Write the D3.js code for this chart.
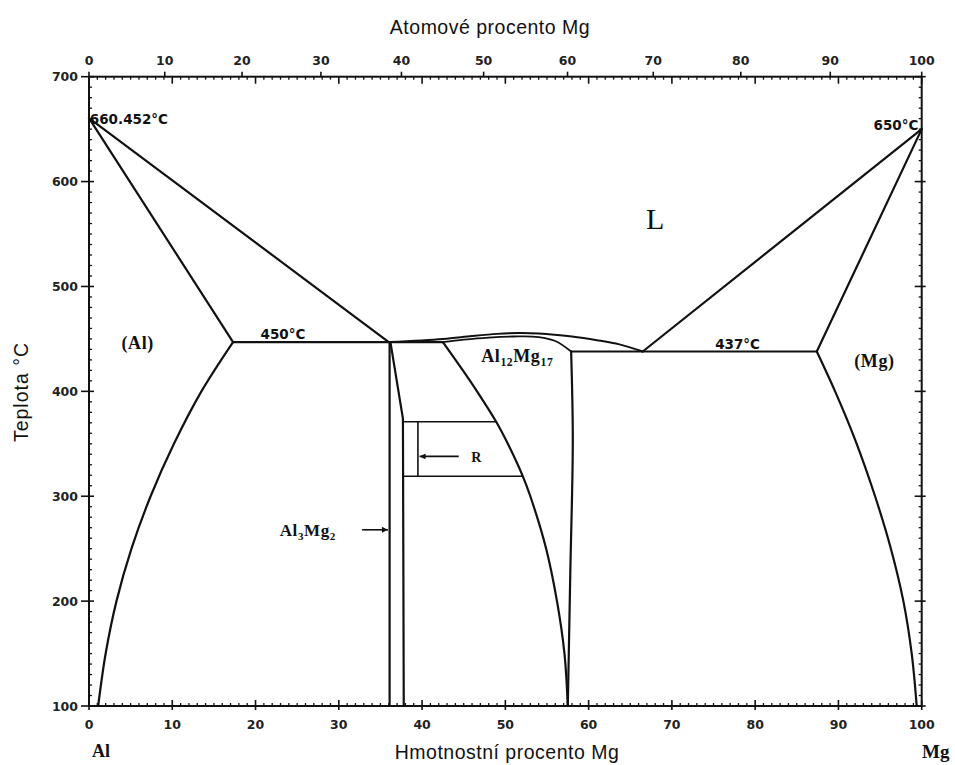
<!DOCTYPE html>
<html>
<head>
<meta charset="utf-8">
<script src="https://cdn.jsdelivr.net/npm/d3@7"></script>
<style>
  body { margin: 0; background: #fff; }
  svg { display: block; }
  .sans { font-family: "Liberation Sans", Arial, sans-serif; }
  .num { font-family: "DejaVu Sans", sans-serif; }
  .serif { font-family: "Liberation Serif", "DejaVu Serif", serif; }
</style>
</head>
<body>
<svg id="chart" width="955" height="765"></svg>
<script>
// axis ticks
const wtTicks = [0, 10, 20, 30, 40, 50, 60, 70, 80, 90, 100];
const atTicks = [0, 10, 20, 30, 40, 50, 60, 70, 80, 90, 100];
const tempTicks = [100, 200, 300, 400, 500, 600, 700];

// phase boundaries, [wt% Mg, temperature °C]
const alLiquidus = [[0, 660.452], [36.0, 447]];
const alSolidus = [[0, 660.452], [17.3, 447]];
const alSolvus = [[17.3, 447], [13.5, 400], [10.2, 350], [7.4, 300], [5.1, 250], [3.3, 200], [2.0, 150], [1.1, 100]];
const eutectic450 = [[17.3, 447], [42.5, 447]];
const betaLeft = [[36.1, 447], [36.1, 100]];
const betaRight = [[36.2, 447], [37.7, 374], [37.8, 100]];
const rTop = [[37.7, 371], [48.9, 371]];
const rBottom = [[37.8, 319], [52.1, 319]];
const rSide = [[39.5, 371], [39.5, 319]];
const gammaLeft = [[42.5, 447], [44.9, 420], [46.6, 400], [48.9, 371], [50.3, 350], [52.1, 319], [53.0, 300],
                   [54.9, 250], [56.2, 200], [57.1, 150], [57.5, 100]];
const gammaRight = [[57.9, 438], [58.1, 354], [57.8, 227], [57.5, 100]];
const midLiquidus = [[36.0, 447], [42.5, 450], [46, 452.8], [49, 454.8], [51.5, 455.6], [54, 455.2],
                     [58, 452.3], [61, 448.8], [63.7, 444.8], [66.5, 438]];
const gammaSolidus = [[42.5, 447], [45, 449.3], [48, 451.3], [51, 452.3], [54, 451.8], [56, 448], [57.9, 438]];
const eutectic437 = [[57.9, 438], [87.4, 438]];
const mgLiquidus = [[66.5, 438], [100, 650]];
const mgSolidus = [[87.4, 438], [100, 650]];
const mgSolvus = [[87.4, 438], [89.6, 400], [92.0, 354], [94.4, 300], [96.3, 250], [97.8, 200], [98.8, 150], [99.4, 100]];

const MG = 24.305, AL = 26.9815;
const atToWt = a => 100 * a * MG / (a * MG + (100 - a) * AL);

const svg = d3.select("#chart");

const x = d3.scaleLinear().domain([0, 100]).range([89, 921.7]);
const y = d3.scaleLinear().domain([100, 700]).range([706, 76.7]);

const [x0, x1] = x.range();
const [y0, y1] = y.range();

// frame
svg.append("rect")
    .attr("x", x0).attr("y", y1)
    .attr("width", x1 - x0).attr("height", y0 - y1)
    .attr("fill", "none").attr("stroke", "#111").attr("stroke-width", 2);

const tickG = svg.append("g").attr("stroke", "#111");

// wt% ticks top and bottom (inward, majors crossing)
d3.range(0, 101, 1).forEach(w => {
    const major = w % 10 === 0;
    tickG.append("line").attr("x1", x(w)).attr("x2", x(w))
        .attr("y1", y0 + (major ? 4 : 0)).attr("y2", y0 - (major ? 6 : 3))
        .attr("stroke-width", major ? 1.6 : 1.3);
    tickG.append("line").attr("x1", x(w)).attr("x2", x(w))
        .attr("y1", y1).attr("y2", y1 + (major ? 7 : 3))
        .attr("stroke-width", major ? 1.6 : 1.3);
});

// temperature ticks left and right
d3.range(100, 701, 10).forEach(t => {
    const major = t % 100 === 0;
    tickG.append("line").attr("y1", y(t)).attr("y2", y(t))
        .attr("x1", x0 - (major ? 8 : 0)).attr("x2", x0 + (major ? 5 : 3))
        .attr("stroke-width", major ? 1.6 : 1.3);
    tickG.append("line").attr("y1", y(t)).attr("y2", y(t))
        .attr("x1", x1 + (major ? 4 : 0)).attr("x2", x1 - (major ? 7 : 3))
        .attr("stroke-width", major ? 1.6 : 1.3);
});

// atomic % ticks on top (outward)
atTicks.forEach(a => {
    tickG.append("line").attr("x1", x(atToWt(a))).attr("x2", x(atToWt(a)))
        .attr("y1", y1).attr("y2", y1 - 5).attr("stroke-width", 1.6);
});

const tickText = svg.append("g")
    .attr("class", "num")
    .attr("font-size", 12.5)
    .attr("font-weight", "bold")
    .attr("fill", "#222");

tickText.selectAll(".wt").data(wtTicks).join("text")
    .attr("x", d => x(d)).attr("y", y0 + 23)
    .attr("text-anchor", "middle").text(d => d);

tickText.selectAll(".at").data(atTicks).join("text")
    .attr("x", d => x(atToWt(d))).attr("y", y1 - 12)
    .attr("text-anchor", "middle").text(d => d);

tickText.selectAll(".temp").data(tempTicks).join("text")
    .attr("x", x0 - 11).attr("y", d => y(d) + 4.5)
    .attr("text-anchor", "end").text(d => d);

// phase boundaries
const straight = d3.line().x(d => x(d[0])).y(d => y(d[1]));
const smooth = d3.line().x(d => x(d[0])).y(d => y(d[1])).curve(d3.curveCatmullRom.alpha(0.5));

const lines = svg.append("g")
    .attr("fill", "none")
    .attr("stroke", "#111")
    .attr("stroke-linejoin", "round")
    .attr("stroke-linecap", "round");

[
    [alLiquidus, straight, 2.2],
    [alSolidus, straight, 2.2],
    [alSolvus, smooth, 2.2],
    [eutectic450, straight, 2.2],
    [betaLeft, straight, 2.2],
    [betaRight, straight, 2.2],
    [rTop, straight, 1.6],
    [rBottom, straight, 1.6],
    [rSide, straight, 1.6],
    [gammaLeft, smooth, 2.2],
    [gammaRight, smooth, 2.2],
    [midLiquidus, smooth, 2],
    [gammaSolidus, smooth, 1.8],
    [eutectic437, straight, 2.2],
    [mgLiquidus, straight, 2.2],
    [mgSolidus, straight, 2.2],
    [mgSolvus, smooth, 2.2]
].forEach(([pts, gen, w]) => {
    lines.append("path").attr("d", gen(pts)).attr("stroke-width", w);
});

// arrows
svg.append("defs").append("marker")
    .attr("id", "arrow")
    .attr("viewBox", "0 0 10 10")
    .attr("refX", 10).attr("refY", 5)
    .attr("markerWidth", 9).attr("markerHeight", 6)
    .attr("markerUnits", "userSpaceOnUse")
    .attr("orient", "auto")
    .append("path").attr("d", "M0,0L10,5L0,10Z").attr("fill", "#111");

const arrows = [
    {from: [32.8, 268], to: [35.9, 268]},
    {from: [44.4, 338], to: [39.7, 338]}
];
arrows.forEach(a => {
    svg.append("line")
        .attr("x1", x(a.from[0])).attr("y1", y(a.from[1]))
        .attr("x2", x(a.to[0])).attr("y2", y(a.to[1]))
        .attr("stroke", "#111").attr("stroke-width", 1.6)
        .attr("marker-end", "url(#arrow)");
});

// annotations
const ann = svg.append("g").attr("fill", "#111");

function sansLabel(text, w, t, anchor) {
    ann.append("text").attr("class", "num")
        .attr("x", x(w)).attr("y", y(t))
        .attr("font-size", 13.5).attr("font-weight", "bold")
        .attr("text-anchor", anchor || "start")
        .text(text);
}
sansLabel("660.452°C", 0.1, 655);
sansLabel("650°C", 99.6, 649, "end");
sansLabel("450°C", 20.6, 449.5);
sansLabel("437°C", 75.2, 440);

function serifLabel(parts, w, t, size) {
    const txt = ann.append("text").attr("class", "serif")
        .attr("x", x(w)).attr("y", y(t))
        .attr("font-size", size).attr("font-weight", "bold")
        .attr("letter-spacing", 0.6);
    parts.forEach(p => {
        txt.append("tspan")
            .attr("font-size", p.sub ? size * 0.65 : size)
            .attr("dy", p.sub ? 4 : (p.after ? -4 : 0))
            .text(p.t);
    });
}
serifLabel([{t: "(Al)"}], 3.9, 440, 18);
serifLabel([{t: "(Mg)"}], 91.9, 423, 18);
serifLabel([{t: "Al"}, {t: "12", sub: true}, {t: "Mg", after: true}, {t: "17", sub: true}], 47.1, 428, 18);
serifLabel([{t: "Al"}, {t: "3", sub: true}, {t: "Mg", after: true}, {t: "2", sub: true}], 22.9, 262, 17);
serifLabel([{t: "R"}], 45.9, 333, 14);

ann.append("text").attr("class", "serif")
    .attr("x", x(68)).attr("y", y(555))
    .attr("font-size", 30).attr("text-anchor", "middle")
    .text("L");

ann.append("text").attr("class", "serif")
    .attr("x", 92).attr("y", 757)
    .attr("font-size", 18).attr("font-weight", "bold")
    .text("Al");
ann.append("text").attr("class", "serif")
    .attr("x", 922).attr("y", 758)
    .attr("font-size", 19).attr("font-weight", "bold")
    .text("Mg");

// axis titles
const titles = svg.append("g").attr("class", "sans").attr("font-size", 19.5)
    .attr("letter-spacing", 0.5).attr("fill", "#111");
titles.append("text").attr("x", 490).attr("y", 34).attr("text-anchor", "middle").text("Atomové procento Mg");
titles.append("text").attr("x", 507).attr("y", 759).attr("text-anchor", "middle").text("Hmotnostní procento Mg");
titles.append("text")
    .attr("transform", "translate(28,392) rotate(-90)")
    .attr("letter-spacing", 1)
    .attr("text-anchor", "middle").text("Teplota °C");
</script>
</body>
</html>
